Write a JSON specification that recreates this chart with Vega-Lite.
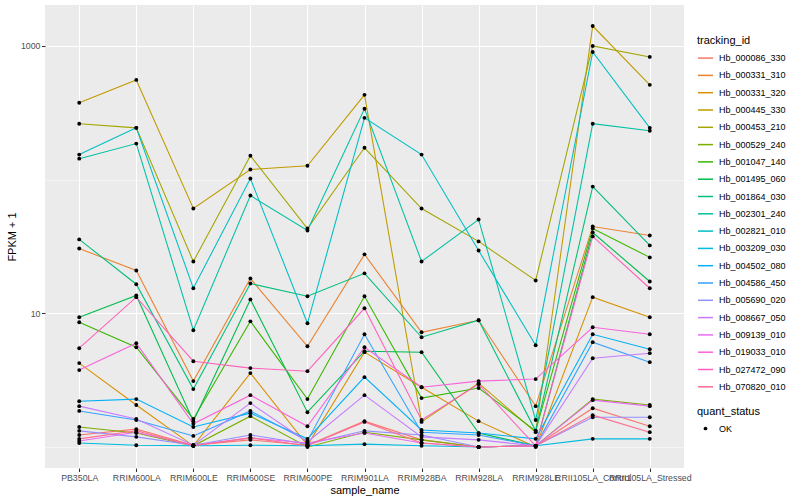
{
  "$schema": "https://vega.github.io/schema/vega-lite/v6.json",
  "width": 639,
  "height": 463,
  "autosize": {"type": "none"},
  "padding": {"left": 45, "top": 5, "right": 116, "bottom": 32},
  "background": "white",
  "config": {
    "font": "Liberation Sans",
    "view": {"fill": "#EBEBEB", "stroke": null},
    "axis": {
      "domain": false,
      "gridColor": "white",
      "tickColor": "#333333",
      "tickWidth": 1.07,
      "tickSize": 3.5,
      "labelColor": "#4D4D4D",
      "labelFontSize": 8.8,
      "titleColor": "black",
      "titleFontSize": 11,
      "titleFontWeight": "normal"
    }
  },
  "data": {
    "values": [
      {"tracking_id":"Hb_000086_330","sample_name":"PB350LA","fpkm1":1.23,"quant_status":"OK"},
      {"tracking_id":"Hb_000086_330","sample_name":"RRIM600LA","fpkm1":1.36,"quant_status":"OK"},
      {"tracking_id":"Hb_000086_330","sample_name":"RRIM600LE","fpkm1":1.03,"quant_status":"OK"},
      {"tracking_id":"Hb_000086_330","sample_name":"RRIM600SE","fpkm1":1.13,"quant_status":"OK"},
      {"tracking_id":"Hb_000086_330","sample_name":"RRIM600PE","fpkm1":1.03,"quant_status":"OK"},
      {"tracking_id":"Hb_000086_330","sample_name":"RRIM901LA","fpkm1":1.56,"quant_status":"OK"},
      {"tracking_id":"Hb_000086_330","sample_name":"RRIM928BA","fpkm1":1.13,"quant_status":"OK"},
      {"tracking_id":"Hb_000086_330","sample_name":"RRIM928LA","fpkm1":1.0,"quant_status":"OK"},
      {"tracking_id":"Hb_000086_330","sample_name":"RRIM928LE","fpkm1":1.02,"quant_status":"OK"},
      {"tracking_id":"Hb_000086_330","sample_name":"RRII105LA_Control","fpkm1":1.95,"quant_status":"OK"},
      {"tracking_id":"Hb_000086_330","sample_name":"RRII105LA_Stressed","fpkm1":1.43,"quant_status":"OK"},

      {"tracking_id":"Hb_000331_310","sample_name":"PB350LA","fpkm1":30.5,"quant_status":"OK"},
      {"tracking_id":"Hb_000331_310","sample_name":"RRIM600LA","fpkm1":20.9,"quant_status":"OK"},
      {"tracking_id":"Hb_000331_310","sample_name":"RRIM600LE","fpkm1":3.11,"quant_status":"OK"},
      {"tracking_id":"Hb_000331_310","sample_name":"RRIM600SE","fpkm1":18.2,"quant_status":"OK"},
      {"tracking_id":"Hb_000331_310","sample_name":"RRIM600PE","fpkm1":5.67,"quant_status":"OK"},
      {"tracking_id":"Hb_000331_310","sample_name":"RRIM901LA","fpkm1":27.6,"quant_status":"OK"},
      {"tracking_id":"Hb_000331_310","sample_name":"RRIM928BA","fpkm1":7.21,"quant_status":"OK"},
      {"tracking_id":"Hb_000331_310","sample_name":"RRIM928LA","fpkm1":8.87,"quant_status":"OK"},
      {"tracking_id":"Hb_000331_310","sample_name":"RRIM928LE","fpkm1":2.02,"quant_status":"OK"},
      {"tracking_id":"Hb_000331_310","sample_name":"RRII105LA_Control","fpkm1":44.6,"quant_status":"OK"},
      {"tracking_id":"Hb_000331_310","sample_name":"RRII105LA_Stressed","fpkm1":38.2,"quant_status":"OK"},

      {"tracking_id":"Hb_000331_320","sample_name":"PB350LA","fpkm1":4.24,"quant_status":"OK"},
      {"tracking_id":"Hb_000331_320","sample_name":"RRIM600LA","fpkm1":2.06,"quant_status":"OK"},
      {"tracking_id":"Hb_000331_320","sample_name":"RRIM600LE","fpkm1":1.02,"quant_status":"OK"},
      {"tracking_id":"Hb_000331_320","sample_name":"RRIM600SE","fpkm1":3.57,"quant_status":"OK"},
      {"tracking_id":"Hb_000331_320","sample_name":"RRIM600PE","fpkm1":1.03,"quant_status":"OK"},
      {"tracking_id":"Hb_000331_320","sample_name":"RRIM901LA","fpkm1":5.12,"quant_status":"OK"},
      {"tracking_id":"Hb_000331_320","sample_name":"RRIM928BA","fpkm1":2.80,"quant_status":"OK"},
      {"tracking_id":"Hb_000331_320","sample_name":"RRIM928LA","fpkm1":1.56,"quant_status":"OK"},
      {"tracking_id":"Hb_000331_320","sample_name":"RRIM928LE","fpkm1":1.0,"quant_status":"OK"},
      {"tracking_id":"Hb_000331_320","sample_name":"RRII105LA_Control","fpkm1":13.2,"quant_status":"OK"},
      {"tracking_id":"Hb_000331_320","sample_name":"RRII105LA_Stressed","fpkm1":9.34,"quant_status":"OK"},

      {"tracking_id":"Hb_000445_330","sample_name":"PB350LA","fpkm1":376,"quant_status":"OK"},
      {"tracking_id":"Hb_000445_330","sample_name":"RRIM600LA","fpkm1":557,"quant_status":"OK"},
      {"tracking_id":"Hb_000445_330","sample_name":"RRIM600LE","fpkm1":60.8,"quant_status":"OK"},
      {"tracking_id":"Hb_000445_330","sample_name":"RRIM600SE","fpkm1":119,"quant_status":"OK"},
      {"tracking_id":"Hb_000445_330","sample_name":"RRIM600PE","fpkm1":127,"quant_status":"OK"},
      {"tracking_id":"Hb_000445_330","sample_name":"RRIM901LA","fpkm1":431,"quant_status":"OK"},
      {"tracking_id":"Hb_000445_330","sample_name":"RRIM928BA","fpkm1":1.54,"quant_status":"OK"},
      {"tracking_id":"Hb_000445_330","sample_name":"RRIM928LA","fpkm1":3.0,"quant_status":"OK"},
      {"tracking_id":"Hb_000445_330","sample_name":"RRIM928LE","fpkm1":1.29,"quant_status":"OK"},
      {"tracking_id":"Hb_000445_330","sample_name":"RRII105LA_Control","fpkm1":1410,"quant_status":"OK"},
      {"tracking_id":"Hb_000445_330","sample_name":"RRII105LA_Stressed","fpkm1":512,"quant_status":"OK"},

      {"tracking_id":"Hb_000453_210","sample_name":"PB350LA","fpkm1":262,"quant_status":"OK"},
      {"tracking_id":"Hb_000453_210","sample_name":"RRIM600LA","fpkm1":244,"quant_status":"OK"},
      {"tracking_id":"Hb_000453_210","sample_name":"RRIM600LE","fpkm1":24.4,"quant_status":"OK"},
      {"tracking_id":"Hb_000453_210","sample_name":"RRIM600SE","fpkm1":151,"quant_status":"OK"},
      {"tracking_id":"Hb_000453_210","sample_name":"RRIM600PE","fpkm1":43.1,"quant_status":"OK"},
      {"tracking_id":"Hb_000453_210","sample_name":"RRIM901LA","fpkm1":173,"quant_status":"OK"},
      {"tracking_id":"Hb_000453_210","sample_name":"RRIM928BA","fpkm1":60.8,"quant_status":"OK"},
      {"tracking_id":"Hb_000453_210","sample_name":"RRIM928LA","fpkm1":34.5,"quant_status":"OK"},
      {"tracking_id":"Hb_000453_210","sample_name":"RRIM928LE","fpkm1":17.6,"quant_status":"OK"},
      {"tracking_id":"Hb_000453_210","sample_name":"RRII105LA_Control","fpkm1":1000,"quant_status":"OK"},
      {"tracking_id":"Hb_000453_210","sample_name":"RRII105LA_Stressed","fpkm1":828,"quant_status":"OK"},

      {"tracking_id":"Hb_000529_240","sample_name":"PB350LA","fpkm1":1.41,"quant_status":"OK"},
      {"tracking_id":"Hb_000529_240","sample_name":"RRIM600LA","fpkm1":1.27,"quant_status":"OK"},
      {"tracking_id":"Hb_000529_240","sample_name":"RRIM600LE","fpkm1":1.02,"quant_status":"OK"},
      {"tracking_id":"Hb_000529_240","sample_name":"RRIM600SE","fpkm1":1.70,"quant_status":"OK"},
      {"tracking_id":"Hb_000529_240","sample_name":"RRIM600PE","fpkm1":1.0,"quant_status":"OK"},
      {"tracking_id":"Hb_000529_240","sample_name":"RRIM901LA","fpkm1":1.29,"quant_status":"OK"},
      {"tracking_id":"Hb_000529_240","sample_name":"RRIM928BA","fpkm1":1.13,"quant_status":"OK"},
      {"tracking_id":"Hb_000529_240","sample_name":"RRIM928LA","fpkm1":1.0,"quant_status":"OK"},
      {"tracking_id":"Hb_000529_240","sample_name":"RRIM928LE","fpkm1":1.02,"quant_status":"OK"},
      {"tracking_id":"Hb_000529_240","sample_name":"RRII105LA_Control","fpkm1":2.28,"quant_status":"OK"},
      {"tracking_id":"Hb_000529_240","sample_name":"RRII105LA_Stressed","fpkm1":2.06,"quant_status":"OK"},

      {"tracking_id":"Hb_001047_140","sample_name":"PB350LA","fpkm1":8.57,"quant_status":"OK"},
      {"tracking_id":"Hb_001047_140","sample_name":"RRIM600LA","fpkm1":5.57,"quant_status":"OK"},
      {"tracking_id":"Hb_001047_140","sample_name":"RRIM600LE","fpkm1":1.62,"quant_status":"OK"},
      {"tracking_id":"Hb_001047_140","sample_name":"RRIM600SE","fpkm1":8.71,"quant_status":"OK"},
      {"tracking_id":"Hb_001047_140","sample_name":"RRIM600PE","fpkm1":2.28,"quant_status":"OK"},
      {"tracking_id":"Hb_001047_140","sample_name":"RRIM901LA","fpkm1":13.4,"quant_status":"OK"},
      {"tracking_id":"Hb_001047_140","sample_name":"RRIM928BA","fpkm1":2.32,"quant_status":"OK"},
      {"tracking_id":"Hb_001047_140","sample_name":"RRIM928LA","fpkm1":2.76,"quant_status":"OK"},
      {"tracking_id":"Hb_001047_140","sample_name":"RRIM928LE","fpkm1":1.32,"quant_status":"OK"},
      {"tracking_id":"Hb_001047_140","sample_name":"RRII105LA_Control","fpkm1":43.1,"quant_status":"OK"},
      {"tracking_id":"Hb_001047_140","sample_name":"RRII105LA_Stressed","fpkm1":26.2,"quant_status":"OK"},

      {"tracking_id":"Hb_001495_060","sample_name":"PB350LA","fpkm1":9.34,"quant_status":"OK"},
      {"tracking_id":"Hb_001495_060","sample_name":"RRIM600LA","fpkm1":13.6,"quant_status":"OK"},
      {"tracking_id":"Hb_001495_060","sample_name":"RRIM600LE","fpkm1":1.56,"quant_status":"OK"},
      {"tracking_id":"Hb_001495_060","sample_name":"RRIM600SE","fpkm1":12.7,"quant_status":"OK"},
      {"tracking_id":"Hb_001495_060","sample_name":"RRIM600PE","fpkm1":1.82,"quant_status":"OK"},
      {"tracking_id":"Hb_001495_060","sample_name":"RRIM901LA","fpkm1":5.20,"quant_status":"OK"},
      {"tracking_id":"Hb_001495_060","sample_name":"RRIM928BA","fpkm1":5.12,"quant_status":"OK"},
      {"tracking_id":"Hb_001495_060","sample_name":"RRIM928LA","fpkm1":1.27,"quant_status":"OK"},
      {"tracking_id":"Hb_001495_060","sample_name":"RRIM928LE","fpkm1":1.02,"quant_status":"OK"},
      {"tracking_id":"Hb_001495_060","sample_name":"RRII105LA_Control","fpkm1":40.2,"quant_status":"OK"},
      {"tracking_id":"Hb_001495_060","sample_name":"RRII105LA_Stressed","fpkm1":17.3,"quant_status":"OK"},

      {"tracking_id":"Hb_001864_030","sample_name":"PB350LA","fpkm1":35.7,"quant_status":"OK"},
      {"tracking_id":"Hb_001864_030","sample_name":"RRIM600LA","fpkm1":16.5,"quant_status":"OK"},
      {"tracking_id":"Hb_001864_030","sample_name":"RRIM600LE","fpkm1":2.71,"quant_status":"OK"},
      {"tracking_id":"Hb_001864_030","sample_name":"RRIM600SE","fpkm1":16.7,"quant_status":"OK"},
      {"tracking_id":"Hb_001864_030","sample_name":"RRIM600PE","fpkm1":13.4,"quant_status":"OK"},
      {"tracking_id":"Hb_001864_030","sample_name":"RRIM901LA","fpkm1":19.9,"quant_status":"OK"},
      {"tracking_id":"Hb_001864_030","sample_name":"RRIM928BA","fpkm1":6.62,"quant_status":"OK"},
      {"tracking_id":"Hb_001864_030","sample_name":"RRIM928LA","fpkm1":8.87,"quant_status":"OK"},
      {"tracking_id":"Hb_001864_030","sample_name":"RRIM928LE","fpkm1":1.32,"quant_status":"OK"},
      {"tracking_id":"Hb_001864_030","sample_name":"RRII105LA_Control","fpkm1":88.7,"quant_status":"OK"},
      {"tracking_id":"Hb_001864_030","sample_name":"RRII105LA_Stressed","fpkm1":32.2,"quant_status":"OK"},

      {"tracking_id":"Hb_002301_240","sample_name":"PB350LA","fpkm1":143.5,"quant_status":"OK"},
      {"tracking_id":"Hb_002301_240","sample_name":"RRIM600LA","fpkm1":186,"quant_status":"OK"},
      {"tracking_id":"Hb_002301_240","sample_name":"RRIM600LE","fpkm1":7.47,"quant_status":"OK"},
      {"tracking_id":"Hb_002301_240","sample_name":"RRIM600SE","fpkm1":76,"quant_status":"OK"},
      {"tracking_id":"Hb_002301_240","sample_name":"RRIM600PE","fpkm1":41.6,"quant_status":"OK"},
      {"tracking_id":"Hb_002301_240","sample_name":"RRIM901LA","fpkm1":339,"quant_status":"OK"},
      {"tracking_id":"Hb_002301_240","sample_name":"RRIM928BA","fpkm1":24.4,"quant_status":"OK"},
      {"tracking_id":"Hb_002301_240","sample_name":"RRIM928LA","fpkm1":50.3,"quant_status":"OK"},
      {"tracking_id":"Hb_002301_240","sample_name":"RRIM928LE","fpkm1":1.59,"quant_status":"OK"},
      {"tracking_id":"Hb_002301_240","sample_name":"RRII105LA_Control","fpkm1":262,"quant_status":"OK"},
      {"tracking_id":"Hb_002301_240","sample_name":"RRII105LA_Stressed","fpkm1":232,"quant_status":"OK"},

      {"tracking_id":"Hb_002821_010","sample_name":"PB350LA","fpkm1":154,"quant_status":"OK"},
      {"tracking_id":"Hb_002821_010","sample_name":"RRIM600LA","fpkm1":244,"quant_status":"OK"},
      {"tracking_id":"Hb_002821_010","sample_name":"RRIM600LE","fpkm1":15.4,"quant_status":"OK"},
      {"tracking_id":"Hb_002821_010","sample_name":"RRIM600SE","fpkm1":102,"quant_status":"OK"},
      {"tracking_id":"Hb_002821_010","sample_name":"RRIM600PE","fpkm1":8.42,"quant_status":"OK"},
      {"tracking_id":"Hb_002821_010","sample_name":"RRIM901LA","fpkm1":290,"quant_status":"OK"},
      {"tracking_id":"Hb_002821_010","sample_name":"RRIM928BA","fpkm1":154,"quant_status":"OK"},
      {"tracking_id":"Hb_002821_010","sample_name":"RRIM928LA","fpkm1":29.5,"quant_status":"OK"},
      {"tracking_id":"Hb_002821_010","sample_name":"RRIM928LE","fpkm1":5.77,"quant_status":"OK"},
      {"tracking_id":"Hb_002821_010","sample_name":"RRII105LA_Control","fpkm1":902,"quant_status":"OK"},
      {"tracking_id":"Hb_002821_010","sample_name":"RRII105LA_Stressed","fpkm1":244,"quant_status":"OK"},

      {"tracking_id":"Hb_003209_030","sample_name":"PB350LA","fpkm1":1.07,"quant_status":"OK"},
      {"tracking_id":"Hb_003209_030","sample_name":"RRIM600LA","fpkm1":1.03,"quant_status":"OK"},
      {"tracking_id":"Hb_003209_030","sample_name":"RRIM600LE","fpkm1":1.02,"quant_status":"OK"},
      {"tracking_id":"Hb_003209_030","sample_name":"RRIM600SE","fpkm1":1.03,"quant_status":"OK"},
      {"tracking_id":"Hb_003209_030","sample_name":"RRIM600PE","fpkm1":1.02,"quant_status":"OK"},
      {"tracking_id":"Hb_003209_030","sample_name":"RRIM901LA","fpkm1":1.05,"quant_status":"OK"},
      {"tracking_id":"Hb_003209_030","sample_name":"RRIM928BA","fpkm1":1.02,"quant_status":"OK"},
      {"tracking_id":"Hb_003209_030","sample_name":"RRIM928LA","fpkm1":1.0,"quant_status":"OK"},
      {"tracking_id":"Hb_003209_030","sample_name":"RRIM928LE","fpkm1":1.02,"quant_status":"OK"},
      {"tracking_id":"Hb_003209_030","sample_name":"RRII105LA_Control","fpkm1":1.15,"quant_status":"OK"},
      {"tracking_id":"Hb_003209_030","sample_name":"RRII105LA_Stressed","fpkm1":1.15,"quant_status":"OK"},

      {"tracking_id":"Hb_004502_080","sample_name":"PB350LA","fpkm1":2.20,"quant_status":"OK"},
      {"tracking_id":"Hb_004502_080","sample_name":"RRIM600LA","fpkm1":2.28,"quant_status":"OK"},
      {"tracking_id":"Hb_004502_080","sample_name":"RRIM600LE","fpkm1":1.41,"quant_status":"OK"},
      {"tracking_id":"Hb_004502_080","sample_name":"RRIM600SE","fpkm1":1.79,"quant_status":"OK"},
      {"tracking_id":"Hb_004502_080","sample_name":"RRIM600PE","fpkm1":1.15,"quant_status":"OK"},
      {"tracking_id":"Hb_004502_080","sample_name":"RRIM901LA","fpkm1":3.33,"quant_status":"OK"},
      {"tracking_id":"Hb_004502_080","sample_name":"RRIM928BA","fpkm1":1.34,"quant_status":"OK"},
      {"tracking_id":"Hb_004502_080","sample_name":"RRIM928LA","fpkm1":1.27,"quant_status":"OK"},
      {"tracking_id":"Hb_004502_080","sample_name":"RRIM928LE","fpkm1":1.15,"quant_status":"OK"},
      {"tracking_id":"Hb_004502_080","sample_name":"RRII105LA_Control","fpkm1":6.97,"quant_status":"OK"},
      {"tracking_id":"Hb_004502_080","sample_name":"RRII105LA_Stressed","fpkm1":5.39,"quant_status":"OK"},

      {"tracking_id":"Hb_004586_450","sample_name":"PB350LA","fpkm1":1.86,"quant_status":"OK"},
      {"tracking_id":"Hb_004586_450","sample_name":"RRIM600LA","fpkm1":1.59,"quant_status":"OK"},
      {"tracking_id":"Hb_004586_450","sample_name":"RRIM600LE","fpkm1":1.21,"quant_status":"OK"},
      {"tracking_id":"Hb_004586_450","sample_name":"RRIM600SE","fpkm1":1.86,"quant_status":"OK"},
      {"tracking_id":"Hb_004586_450","sample_name":"RRIM600PE","fpkm1":1.11,"quant_status":"OK"},
      {"tracking_id":"Hb_004586_450","sample_name":"RRIM901LA","fpkm1":6.97,"quant_status":"OK"},
      {"tracking_id":"Hb_004586_450","sample_name":"RRIM928BA","fpkm1":1.29,"quant_status":"OK"},
      {"tracking_id":"Hb_004586_450","sample_name":"RRIM928LA","fpkm1":1.23,"quant_status":"OK"},
      {"tracking_id":"Hb_004586_450","sample_name":"RRIM928LE","fpkm1":1.02,"quant_status":"OK"},
      {"tracking_id":"Hb_004586_450","sample_name":"RRII105LA_Control","fpkm1":6.08,"quant_status":"OK"},
      {"tracking_id":"Hb_004586_450","sample_name":"RRII105LA_Stressed","fpkm1":4.31,"quant_status":"OK"},

      {"tracking_id":"Hb_005690_020","sample_name":"PB350LA","fpkm1":1.32,"quant_status":"OK"},
      {"tracking_id":"Hb_005690_020","sample_name":"RRIM600LA","fpkm1":1.19,"quant_status":"OK"},
      {"tracking_id":"Hb_005690_020","sample_name":"RRIM600LE","fpkm1":1.03,"quant_status":"OK"},
      {"tracking_id":"Hb_005690_020","sample_name":"RRIM600SE","fpkm1":1.23,"quant_status":"OK"},
      {"tracking_id":"Hb_005690_020","sample_name":"RRIM600PE","fpkm1":1.05,"quant_status":"OK"},
      {"tracking_id":"Hb_005690_020","sample_name":"RRIM901LA","fpkm1":1.32,"quant_status":"OK"},
      {"tracking_id":"Hb_005690_020","sample_name":"RRIM928BA","fpkm1":1.23,"quant_status":"OK"},
      {"tracking_id":"Hb_005690_020","sample_name":"RRIM928LA","fpkm1":1.0,"quant_status":"OK"},
      {"tracking_id":"Hb_005690_020","sample_name":"RRIM928LE","fpkm1":1.02,"quant_status":"OK"},
      {"tracking_id":"Hb_005690_020","sample_name":"RRII105LA_Control","fpkm1":1.67,"quant_status":"OK"},
      {"tracking_id":"Hb_005690_020","sample_name":"RRII105LA_Stressed","fpkm1":1.67,"quant_status":"OK"},

      {"tracking_id":"Hb_008667_050","sample_name":"PB350LA","fpkm1":2.02,"quant_status":"OK"},
      {"tracking_id":"Hb_008667_050","sample_name":"RRIM600LA","fpkm1":1.62,"quant_status":"OK"},
      {"tracking_id":"Hb_008667_050","sample_name":"RRIM600LE","fpkm1":1.03,"quant_status":"OK"},
      {"tracking_id":"Hb_008667_050","sample_name":"RRIM600SE","fpkm1":2.13,"quant_status":"OK"},
      {"tracking_id":"Hb_008667_050","sample_name":"RRIM600PE","fpkm1":1.09,"quant_status":"OK"},
      {"tracking_id":"Hb_008667_050","sample_name":"RRIM901LA","fpkm1":2.44,"quant_status":"OK"},
      {"tracking_id":"Hb_008667_050","sample_name":"RRIM928BA","fpkm1":1.19,"quant_status":"OK"},
      {"tracking_id":"Hb_008667_050","sample_name":"RRIM928LA","fpkm1":1.13,"quant_status":"OK"},
      {"tracking_id":"Hb_008667_050","sample_name":"RRIM928LE","fpkm1":1.02,"quant_status":"OK"},
      {"tracking_id":"Hb_008667_050","sample_name":"RRII105LA_Control","fpkm1":4.61,"quant_status":"OK"},
      {"tracking_id":"Hb_008667_050","sample_name":"RRII105LA_Stressed","fpkm1":5.03,"quant_status":"OK"},

      {"tracking_id":"Hb_009139_010","sample_name":"PB350LA","fpkm1":1.11,"quant_status":"OK"},
      {"tracking_id":"Hb_009139_010","sample_name":"RRIM600LA","fpkm1":1.29,"quant_status":"OK"},
      {"tracking_id":"Hb_009139_010","sample_name":"RRIM600LE","fpkm1":1.03,"quant_status":"OK"},
      {"tracking_id":"Hb_009139_010","sample_name":"RRIM600SE","fpkm1":1.17,"quant_status":"OK"},
      {"tracking_id":"Hb_009139_010","sample_name":"RRIM600PE","fpkm1":1.07,"quant_status":"OK"},
      {"tracking_id":"Hb_009139_010","sample_name":"RRIM901LA","fpkm1":1.27,"quant_status":"OK"},
      {"tracking_id":"Hb_009139_010","sample_name":"RRIM928BA","fpkm1":1.07,"quant_status":"OK"},
      {"tracking_id":"Hb_009139_010","sample_name":"RRIM928LA","fpkm1":1.0,"quant_status":"OK"},
      {"tracking_id":"Hb_009139_010","sample_name":"RRIM928LE","fpkm1":1.02,"quant_status":"OK"},
      {"tracking_id":"Hb_009139_010","sample_name":"RRII105LA_Control","fpkm1":2.24,"quant_status":"OK"},
      {"tracking_id":"Hb_009139_010","sample_name":"RRII105LA_Stressed","fpkm1":2.02,"quant_status":"OK"},

      {"tracking_id":"Hb_019033_010","sample_name":"PB350LA","fpkm1":3.76,"quant_status":"OK"},
      {"tracking_id":"Hb_019033_010","sample_name":"RRIM600LA","fpkm1":5.97,"quant_status":"OK"},
      {"tracking_id":"Hb_019033_010","sample_name":"RRIM600LE","fpkm1":1.49,"quant_status":"OK"},
      {"tracking_id":"Hb_019033_010","sample_name":"RRIM600SE","fpkm1":2.44,"quant_status":"OK"},
      {"tracking_id":"Hb_019033_010","sample_name":"RRIM600PE","fpkm1":1.43,"quant_status":"OK"},
      {"tracking_id":"Hb_019033_010","sample_name":"RRIM901LA","fpkm1":5.57,"quant_status":"OK"},
      {"tracking_id":"Hb_019033_010","sample_name":"RRIM928BA","fpkm1":2.80,"quant_status":"OK"},
      {"tracking_id":"Hb_019033_010","sample_name":"RRIM928LA","fpkm1":3.11,"quant_status":"OK"},
      {"tracking_id":"Hb_019033_010","sample_name":"RRIM928LE","fpkm1":3.22,"quant_status":"OK"},
      {"tracking_id":"Hb_019033_010","sample_name":"RRII105LA_Control","fpkm1":7.86,"quant_status":"OK"},
      {"tracking_id":"Hb_019033_010","sample_name":"RRII105LA_Stressed","fpkm1":6.97,"quant_status":"OK"},

      {"tracking_id":"Hb_027472_090","sample_name":"PB350LA","fpkm1":5.48,"quant_status":"OK"},
      {"tracking_id":"Hb_027472_090","sample_name":"RRIM600LA","fpkm1":13.2,"quant_status":"OK"},
      {"tracking_id":"Hb_027472_090","sample_name":"RRIM600LE","fpkm1":4.38,"quant_status":"OK"},
      {"tracking_id":"Hb_027472_090","sample_name":"RRIM600SE","fpkm1":3.89,"quant_status":"OK"},
      {"tracking_id":"Hb_027472_090","sample_name":"RRIM600PE","fpkm1":3.69,"quant_status":"OK"},
      {"tracking_id":"Hb_027472_090","sample_name":"RRIM901LA","fpkm1":10.9,"quant_status":"OK"},
      {"tracking_id":"Hb_027472_090","sample_name":"RRIM928BA","fpkm1":1.59,"quant_status":"OK"},
      {"tracking_id":"Hb_027472_090","sample_name":"RRIM928LA","fpkm1":2.95,"quant_status":"OK"},
      {"tracking_id":"Hb_027472_090","sample_name":"RRIM928LE","fpkm1":1.02,"quant_status":"OK"},
      {"tracking_id":"Hb_027472_090","sample_name":"RRII105LA_Control","fpkm1":37.6,"quant_status":"OK"},
      {"tracking_id":"Hb_027472_090","sample_name":"RRII105LA_Stressed","fpkm1":15.4,"quant_status":"OK"},

      {"tracking_id":"Hb_070820_010","sample_name":"PB350LA","fpkm1":1.15,"quant_status":"OK"},
      {"tracking_id":"Hb_070820_010","sample_name":"RRIM600LA","fpkm1":1.32,"quant_status":"OK"},
      {"tracking_id":"Hb_070820_010","sample_name":"RRIM600LE","fpkm1":1.02,"quant_status":"OK"},
      {"tracking_id":"Hb_070820_010","sample_name":"RRIM600SE","fpkm1":1.17,"quant_status":"OK"},
      {"tracking_id":"Hb_070820_010","sample_name":"RRIM600PE","fpkm1":1.02,"quant_status":"OK"},
      {"tracking_id":"Hb_070820_010","sample_name":"RRIM901LA","fpkm1":1.54,"quant_status":"OK"},
      {"tracking_id":"Hb_070820_010","sample_name":"RRIM928BA","fpkm1":1.07,"quant_status":"OK"},
      {"tracking_id":"Hb_070820_010","sample_name":"RRIM928LA","fpkm1":1.0,"quant_status":"OK"},
      {"tracking_id":"Hb_070820_010","sample_name":"RRIM928LE","fpkm1":1.02,"quant_status":"OK"},
      {"tracking_id":"Hb_070820_010","sample_name":"RRII105LA_Control","fpkm1":1.73,"quant_status":"OK"},
      {"tracking_id":"Hb_070820_010","sample_name":"RRII105LA_Stressed","fpkm1":1.29,"quant_status":"OK"}
    ]
  },
  "encoding": {
    "x": {
      "field": "sample_name",
      "type": "nominal",
      "sort": ["PB350LA","RRIM600LA","RRIM600LE","RRIM600SE","RRIM600PE","RRIM901LA","RRIM928BA","RRIM928LA","RRIM928LE","RRII105LA_Control","RRII105LA_Stressed"],
      "scale": {"type": "point", "padding": 0.6},
      "axis": {
        "title": "sample_name",
        "labelAngle": 0,
        "labelOverlap": false,
        "labelBound": false,
        "labelPadding": 2,
        "titlePadding": 2,
        "grid": true,
        "gridWidth": 1.07
      }
    },
    "y": {
      "field": "fpkm1",
      "type": "quantitative",
      "scale": {"type": "log", "domain": [0.696, 2025], "nice": false, "zero": false},
      "axis": {
        "title": "FPKM + 1",
        "values": [1, 10, 100, 1000],
        "format": "d",
        "labelExpr": "datum.value == 10 || datum.value == 1000 ? datum.label : ''",
        "tickOpacity": {"condition": {"test": "datum.value == 1 || datum.value == 100", "value": 0}, "value": 1},
        "gridWidth": {"condition": {"test": "datum.value == 1 || datum.value == 100", "value": 0.53}, "value": 1.07},
        "labelPadding": 1.5,
        "titlePadding": 3,
        "grid": true
      }
    }
  },
  "layer": [
    {
      "mark": {"type": "line", "strokeWidth": 1.07, "clip": true},
      "encoding": {
        "color": {
          "field": "tracking_id",
          "type": "nominal",
          "scale": {
            "domain": ["Hb_000086_330","Hb_000331_310","Hb_000331_320","Hb_000445_330","Hb_000453_210","Hb_000529_240","Hb_001047_140","Hb_001495_060","Hb_001864_030","Hb_002301_240","Hb_002821_010","Hb_003209_030","Hb_004502_080","Hb_004586_450","Hb_005690_020","Hb_008667_050","Hb_009139_010","Hb_019033_010","Hb_027472_090","Hb_070820_010"],
            "range": ["#F8766D","#EA8331","#D89000","#C09B00","#A3A500","#7CAE00","#39B600","#00BB4E","#00BF7D","#00C1A3","#00BFC4","#00BAE0","#00B0F6","#35A2FF","#9590FF","#C77CFF","#E76BF3","#FA62DB","#FF62BC","#FF6C91"]
          },
          "legend": {
            "title": "tracking_id",
            "orient": "none",
            "legendX": 652,
            "legendY": 30,
            "symbolType": "stroke",
            "symbolSize": 225,
            "symbolStrokeWidth": 1.5,
            "symbolOpacity": 1,
            "rowPadding": 3.3,
            "labelFontSize": 9,
            "labelColor": "black",
            "labelOffset": 5,
            "titleFontSize": 11,
            "titleFontWeight": "normal",
            "titleColor": "black",
            "titlePadding": 3.6,
            "padding": 0
          }
        }
      }
    },
    {
      "mark": {"type": "point", "filled": true, "color": "black", "opacity": 1, "size": 15, "clip": true},
      "encoding": {
        "shape": {
          "field": "quant_status",
          "type": "nominal",
          "scale": {"range": ["circle"]},
          "legend": {
            "title": "quant_status",
            "orient": "none",
            "legendX": 652,
            "legendY": 401,
            "symbolFillColor": "black",
            "symbolStrokeColor": "black",
            "symbolSize": 14,
            "symbolOffset": 4,
            "labelFontSize": 9,
            "labelColor": "black",
            "labelOffset": 9,
            "titleFontSize": 11,
            "titleFontWeight": "normal",
            "titleColor": "black",
            "titlePadding": 7,
            "padding": 0
          }
        }
      }
    }
  ]
}
